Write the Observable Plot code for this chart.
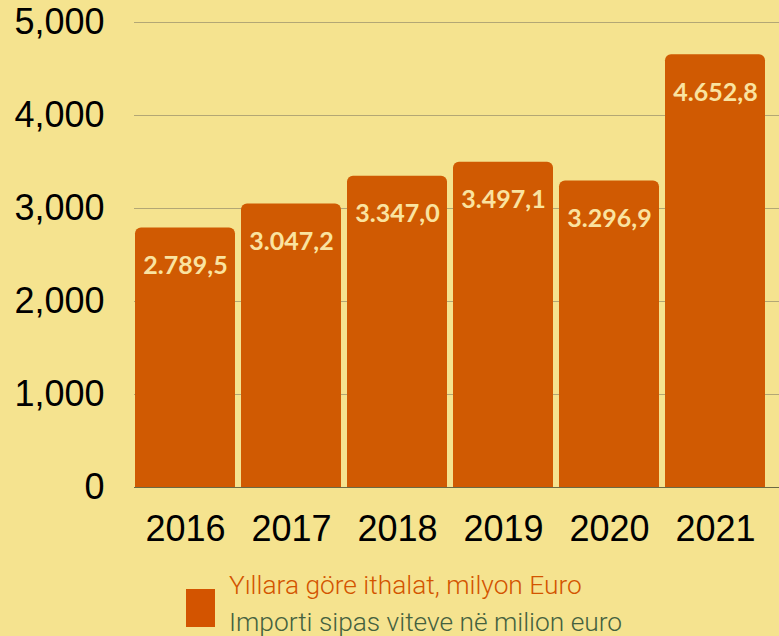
<!DOCTYPE html>
<html>
<head>
<meta charset="utf-8">
<script src="https://cdn.jsdelivr.net/npm/d3@7"></script>
<script src="https://cdn.jsdelivr.net/npm/@observablehq/plot@0.6"></script>
<style>
  html, body { margin: 0; padding: 0; background: #f5e38f; }
  body { width: 779px; height: 636px; overflow: hidden; position: relative; }
  #legend { position: absolute; left: 186px; top: 567px; }
  #legend .sw { position: absolute; left: 0; top: 22px; width: 29px; height: 38px; background: #d35400; }
  #legend .txt { position: absolute; left: 43px; top: 0; font-family: Roboto, sans-serif; font-weight: 300; font-size: 26.3px; line-height: 37px; white-space: nowrap; }
  #legend .l1 { color: #d35400; }
  #legend .l2 { color: #44613f; }
</style>
</head>
<body>
<div id="chart"></div>
<div id="legend"><div class="sw"></div><div class="txt"><div class="l1"></div><div class="l2"></div></div></div>
<script>
const years = ["2016", "2017", "2018", "2019", "2020", "2021"];
const imports = [2789.5, 3047.2, 3347.0, 3497.1, 3296.9, 4652.8];
const yTicks = [0, 1000, 2000, 3000, 4000, 5000];
const legendLines = ["Yıllara göre ithalat, milyon Euro", "Importi sipas viteve në milion euro"];

const data = years.map((y, i) => ({year: y, value: imports[i]}));
const fmt = d3.formatLocale({decimal: ",", thousands: ".", grouping: [3]}).format(",.1f");

const H = 560;
const chart = Plot.plot({
  width: 779,
  height: H,
  marginLeft: 134,
  marginRight: 0,
  marginTop: 22,
  marginBottom: H - 487,
  style: {background: "transparent", fontFamily: "'Liberation Sans', Arial, sans-serif", color: "#000"},
  x: {domain: years, range: [134, 767], paddingInner: 0.0563, paddingOuter: 0, label: null},
  y: {domain: [0, 5000], label: null},
  marks: [
    Plot.ruleY(yTicks.slice(1), {stroke: "#b3a775", strokeWidth: 1}),
    Plot.barY(data, {x: "year", y: "value", fill: "#d05a02", ry1: 6}),
    Plot.ruleY([0], {stroke: "#6b6a45", strokeWidth: 1}),
    Plot.axisY({ticks: yTicks, tickFormat: d3.format(","), tickSize: 0, tickPadding: 30, fontSize: 36, label: null, fill: "#000"}),
    Plot.axisX({tickSize: 0, tickPadding: 28, fontSize: 36, label: null, fill: "#000"}),
    Plot.text(data, {x: "year", y: "value", text: d => fmt(d.value), dy: 38, fill: "#fae3a0", fontSize: 25, fontWeight: "bold", fontFamily: "Lato, sans-serif"})
  ]
});
document.getElementById("chart").appendChild(chart);
document.querySelector("#legend .l1").textContent = legendLines[0];
document.querySelector("#legend .l2").textContent = legendLines[1];
</script>
</body>
</html>
